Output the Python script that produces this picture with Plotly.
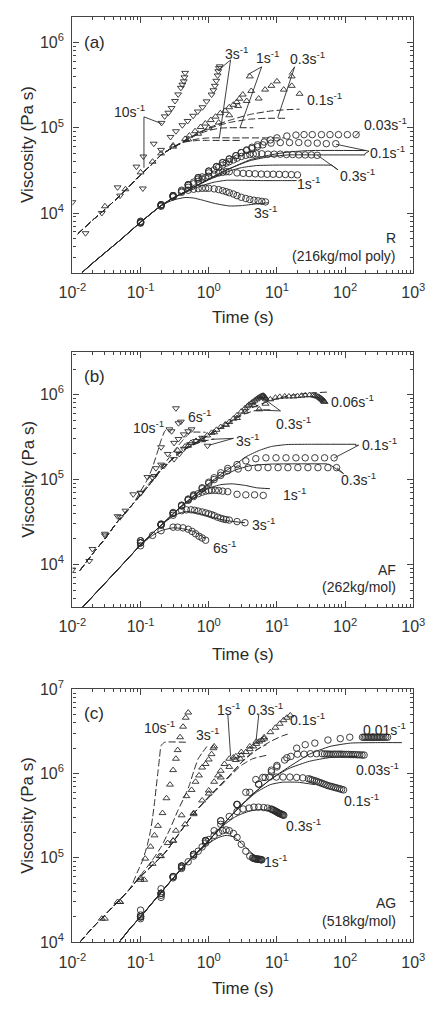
import plotly.graph_objects as go

W, H = 446, 1010
FONT = "Liberation Sans, Arial, sans-serif"
INK = "#2a2a2a"

# ===================== Panel (a): R (216 kg/mol poly) =====================
# extensional data (triangles)
a_tri10_t = [0.01, 0.027, 0.046, 0.087, 0.11, 0.156, 0.203, 0.226, 0.256, 0.285, 0.32, 0.356, 0.39, 0.41, 0.43, 0.44, 0.45]
a_tri10_eta = [1.34e4, 1.0e4, 2.0e4, 3.5e4, 4.6e4, 6.5e4, 1.14e5, 1.36e5, 1.5e5, 1.7e5, 2.06e5, 2.46e5, 2.94e5, 3.2e5, 3.5e5, 3.9e5, 4.4e5]
a_tri3_t = [0.0156, 0.05, 0.108, 0.2, 0.275, 0.33, 0.41, 0.49, 0.59, 0.69, 0.81, 0.93, 1.10, 1.17, 1.23, 1.29, 1.35, 1.38, 1.41, 1.45]
a_tri3_eta = [5.8e3, 1.6e4, 1.94e4, 5.5e4, 7.8e4, 9.1e4, 1.07e5, 1.2e5, 1.38e5, 1.55e5, 1.74e5, 2.04e5, 2.45e5, 2.75e5, 3.1e5, 3.55e5, 4.1e5, 4.6e5, 5.0e5, 5.25e5]
a_tri1_t = [0.03, 0.1, 0.2, 0.3, 0.45, 0.52, 0.63, 0.76, 0.89, 1.07, 1.26, 1.48, 1.74, 2.0, 2.3, 2.57, 2.82, 3.16, 4.0]
a_tri1_eta = [1.2e4, 3.0e4, 5.0e4, 6.2e4, 7.4e4, 8.1e4, 9.1e4, 1.02e5, 1.12e5, 1.23e5, 1.35e5, 1.48e5, 1.58e5, 1.74e5, 1.86e5, 2.0e5, 2.19e5, 2.45e5, 4.0e5]
a_tri03_t = [0.06, 0.15, 0.3, 0.5, 0.7, 1.0, 1.4, 2.0, 2.7, 3.6, 4.2, 5.4, 6.7, 8.3, 10.0, 12.6, 16.5, 16.5, 21.5]
a_tri03_eta = [1.9e4, 4.0e4, 6.0e4, 7.3e4, 8.5e4, 1.0e5, 1.15e5, 1.4e5, 1.8e5, 2.06e5, 2.7e5, 2.2e5, 2.8e5, 3.1e5, 3.5e5, 2.8e5, 4.0e5, 3.1e5, 2.5e5]
# extensional model (dashed)
a_dc_t = [0.012, 0.02, 0.03, 0.05, 0.1, 0.15, 0.2, 0.3]
a_dc_eta = [5.7e3, 8.3e3, 1.1e4, 1.6e4, 2.8e4, 3.8e4, 4.8e4, 5.9e4]
a_d10_t = a_dc_t + [0.45, 0.7, 1.0, 2.9]
a_d10_eta = a_dc_eta + [6.8e4, 7.1e4, 7.1e4, 7.1e4]
a_d3_t = a_dc_t + [0.45, 0.7, 1.0, 3.0, 12.8]
a_d3_eta = a_dc_eta + [6.9e4, 7.4e4, 7.6e4, 7.6e4, 7.6e4]
a_d1_t = a_dc_t + [0.45, 0.7, 1.0, 1.5, 2.0, 4.5]
a_d1_eta = a_dc_eta + [7.0e4, 8.4e4, 9.3e4, 9.9e4, 1.0e5, 1.0e5]
a_d03_t = a_dc_t + [0.45, 0.7, 1.0, 2.0, 4.0, 7.0, 14.0]
a_d03_eta = a_dc_eta + [7.1e4, 8.6e4, 9.8e4, 1.15e5, 1.26e5, 1.29e5, 1.29e5]
a_d01_t = a_dc_t + [0.45, 0.7, 1.0, 2.0, 4.0, 8.0, 14.0, 21.5]
a_d01_eta = a_dc_eta + [7.1e4, 8.7e4, 1.0e5, 1.22e5, 1.43e5, 1.57e5, 1.63e5, 1.65e5]
# shear data (circles)
a_c3_t = [0.1, 0.2, 0.3, 0.4, 0.5, 0.6, 0.7, 0.8, 0.9, 1.0, 1.2, 1.4, 1.6, 1.8, 2.0, 2.3, 2.6, 3.0, 3.5, 4.0, 4.6, 5.3, 6.0, 6.8]
a_c3_eta = [7.8e3, 1.25e4, 1.55e4, 1.75e4, 1.85e4, 1.9e4, 1.93e4, 1.95e4, 1.95e4, 1.95e4, 1.92e4, 1.88e4, 1.83e4, 1.78e4, 1.73e4, 1.67e4, 1.6e4, 1.53e4, 1.48e4, 1.44e4, 1.41e4, 1.39e4, 1.37e4, 1.35e4]
a_c1_t = [0.1, 0.2, 0.3, 0.4, 0.5, 0.6, 0.7, 0.8, 0.9, 1.0, 1.2, 1.4, 1.6, 1.8, 2.0, 2.6, 3.2, 3.9, 4.8, 5.9, 7.2, 8.8, 10.8, 13.3, 16.3, 20.0]
a_c1_eta = [7.6e3, 1.22e4, 1.55e4, 1.8e4, 2.0e4, 2.2e4, 2.35e4, 2.5e4, 2.6e4, 2.7e4, 2.85e4, 2.95e4, 3.0e4, 3.05e4, 3.05e4, 2.95e4, 2.92e4, 2.9e4, 2.88e4, 2.86e4, 2.85e4, 2.85e4, 2.84e4, 2.83e4, 2.82e4, 2.8e4]
a_c03_t = [0.1, 0.2, 0.3, 0.4, 0.5, 0.6, 0.7, 0.8, 1.0, 1.2, 1.4, 1.6, 1.8, 2.0, 2.3, 2.6, 3.0, 3.5, 4.0, 4.5, 5.0, 6.0, 7.4, 9.1, 11.2, 13.8, 17.0, 21.0, 26.0, 32.0, 39.0]
a_c03_eta = [8e3, 1.25e4, 1.6e4, 1.85e4, 2.1e4, 2.3e4, 2.5e4, 2.65e4, 2.95e4, 3.2e4, 3.45e4, 3.65e4, 3.85e4, 4.0e4, 4.2e4, 4.4e4, 4.6e4, 4.75e4, 4.85e4, 4.9e4, 4.95e4, 4.95e4, 4.9e4, 4.9e4, 4.9e4, 4.85e4, 4.85e4, 4.8e4, 4.8e4, 4.8e4, 4.75e4]
a_c01_t = [0.1, 0.2, 0.3, 0.5, 0.7, 1.0, 1.3, 1.6, 2.0, 2.5, 3.0, 3.6, 4.3, 5.2, 6.2, 8.2, 11.2, 15.3, 20.9, 28.5, 39.0, 53.0, 73.0]
a_c01_eta = [7.9e3, 1.25e4, 1.6e4, 2.15e4, 2.6e4, 3.1e4, 3.5e4, 3.9e4, 4.3e4, 4.7e4, 5.1e4, 5.4e4, 5.7e4, 6.0e4, 6.3e4, 6.6e4, 6.7e4, 6.7e4, 6.7e4, 6.6e4, 6.6e4, 6.5e4, 6.5e4]
a_c003_t = [0.1, 0.2, 0.3, 0.5, 0.7, 1.0, 1.3, 1.6, 2.0, 2.5, 3.0, 3.6, 4.3, 5.2, 6.5, 8.0, 10.0, 14.0, 19.0, 25.0, 33.0, 45.0, 60.0, 80.0, 108.0, 145.0]
a_c003_eta = [7.7e3, 1.2e4, 1.6e4, 2.15e4, 2.6e4, 3.1e4, 3.5e4, 3.9e4, 4.3e4, 4.7e4, 5.1e4, 5.5e4, 5.9e4, 6.3e4, 6.8e4, 7.2e4, 7.6e4, 8.0e4, 8.2e4, 8.3e4, 8.3e4, 8.3e4, 8.3e4, 8.3e4, 8.3e4, 8.3e4]
# shear model (solid)
a_sc_t = [0.0138, 0.02, 0.05, 0.1, 0.2]
a_sc_eta = [2.0e3, 2.6e3, 4.8e3, 7.8e3, 1.22e4]
a_s3_t = a_sc_t + [0.3, 0.45, 0.6, 0.8, 1.2, 2.0, 3.0, 5.0, 7.5]
a_s3_eta = a_sc_eta + [1.42e4, 1.52e4, 1.5e4, 1.42e4, 1.3e4, 1.21e4, 1.22e4, 1.28e4, 1.32e4]
a_s1_t = a_sc_t + [0.3, 0.5, 0.8, 1.2, 1.8, 3.0, 6.0, 12.0, 19.5]
a_s1_eta = a_sc_eta + [1.5e4, 1.8e4, 2.1e4, 2.3e4, 2.42e4, 2.42e4, 2.4e4, 2.4e4, 2.4e4]
a_s03_t = a_sc_t + [0.3, 0.5, 1.0, 2.0, 3.0, 5.0, 10.0, 30.0, 63.0]
a_s03_eta = a_sc_eta + [1.5e4, 1.85e4, 2.45e4, 3.1e4, 3.4e4, 3.6e4, 3.65e4, 3.65e4, 3.65e4]
a_s01_t = a_sc_t + [0.3, 0.5, 1.0, 2.0, 4.0, 8.0, 15.0, 40.0, 198.0]
a_s01_eta = a_sc_eta + [1.5e4, 1.85e4, 2.5e4, 3.3e4, 4.1e4, 4.6e4, 4.8e4, 4.8e4, 4.8e4]
a_s003_t = a_sc_t + [0.3, 0.5, 1.0, 2.0, 4.0, 8.0, 15.0, 30.0, 198.0]
a_s003_eta = a_sc_eta + [1.5e4, 1.85e4, 2.5e4, 3.3e4, 4.2e4, 4.8e4, 5.2e4, 5.4e4, 5.4e4]

# ===================== Panel (b): AF (262 kg/mol) =====================
b_tri10_t = [0.01, 0.0177, 0.046, 0.078, 0.126, 0.168, 0.2, 0.265, 0.285, 0.33, 0.36, 0.39]
b_tri10_eta = [8.7e3, 1.1e4, 3.7e4, 6.7e4, 1.07e5, 1.36e5, 2.4e5, 3.9e5, 3.7e5, 6.9e5, 4.6e5, 4.8e5]
b_tri6_t = [0.0197, 0.03, 0.06, 0.1, 0.15, 0.2, 0.25, 0.31, 0.36, 0.43, 0.5, 0.56]
b_tri6_eta = [1.52e4, 2.2e4, 4.3e4, 7.0e4, 1.05e5, 1.5e5, 2.0e5, 2.7e5, 3.0e5, 3.4e5, 3.7e5, 3.9e5]
b_tri3_t = [0.03, 0.05, 0.1, 0.16, 0.22, 0.31, 0.37, 0.43, 0.53, 0.65, 0.8, 0.96]
b_tri3_eta = [2.3e4, 3.6e4, 6.9e4, 1.1e5, 1.45e5, 1.74e5, 2.0e5, 2.3e5, 2.6e5, 2.84e5, 3.1e5, 2.5e5]
b_tri03_t = [0.35, 0.45, 0.55, 0.65, 0.8, 0.95, 1.1, 1.3, 1.5, 1.75, 2.0, 2.3, 2.6, 3.0, 3.4, 3.7, 3.9, 4.2, 4.4, 4.7, 5.0, 5.25, 5.5, 5.75, 6.0, 6.15, 6.3, 6.45, 6.6, 6.75, 6.9]
b_tri03_eta = [2.2e5, 2.45e5, 2.7e5, 2.85e5, 3.0e5, 3.3e5, 3.55e5, 3.85e5, 4.15e5, 4.45e5, 4.75e5, 5.2e5, 5.7e5, 6.3e5, 6.9e5, 7.3e5, 7.6e5, 7.9e5, 8.2e5, 8.5e5, 8.8e5, 9.05e5, 9.3e5, 9.45e5, 9.6e5, 9.65e5, 9.7e5, 9.6e5, 9.4e5, 9.1e5, 8.8e5]
b_tri006_t = [0.5, 0.8, 1.2, 1.8, 2.6, 3.4, 4.6, 5.5, 6.8, 8.0, 9.5, 11.0, 13.0, 15.0, 17.5, 20.0, 23.0, 26.0, 30.0, 34.0, 36.0, 38.0, 40.0, 42.0, 43.5, 45.0, 46.5, 48.0, 49.0, 50.0]
b_tri006_eta = [2.5e5, 2.9e5, 3.6e5, 4.4e5, 5.3e5, 6.3e5, 7.5e5, 6.7e5, 7.8e5, 8.8e5, 9.2e5, 9.4e5, 9.5e5, 9.5e5, 9.5e5, 9.6e5, 9.7e5, 9.8e5, 9.85e5, 9.8e5, 9.7e5, 9.6e5, 9.45e5, 9.3e5, 9.1e5, 8.9e5, 8.7e5, 8.5e5, 8.35e5, 8.2e5]
b_dc_t = [0.0129, 0.02, 0.03, 0.046, 0.078]
b_dc_eta = [8.5e3, 1.35e4, 2.0e4, 3.2e4, 5.2e4]
b_d10_t = b_dc_t + [0.1, 0.126, 0.15, 0.18, 0.2, 0.226, 0.25]
b_d10_eta = b_dc_eta + [7.3e4, 1.0e5, 1.4e5, 2.2e5, 2.9e5, 3.7e5, 4.0e5]
b_d6_t = b_dc_t + [0.126, 0.2, 0.3, 0.4, 0.5, 0.55, 0.9]
b_d6_eta = b_dc_eta + [8.5e4, 1.35e5, 2.1e5, 2.8e5, 3.4e5, 3.6e5, 3.6e5]
b_d3_t = b_dc_t + [0.126, 0.2, 0.35, 0.5, 0.8, 1.2]
b_d3_eta = b_dc_eta + [8.1e4, 1.3e5, 1.95e5, 2.4e5, 2.8e5, 3.0e5]
b_d03_t = b_dc_t + [0.126, 0.2, 0.35, 0.8, 1.9, 3.0, 4.5, 6.0, 8.0]
b_d03_eta = b_dc_eta + [8.1e4, 1.3e5, 2.0e5, 3.0e5, 4.5e5, 5.7e5, 6.4e5, 6.6e5, 6.6e5]
b_d006_t = b_dc_t + [0.126, 0.2, 0.35, 0.8, 1.9, 4.0, 8.0, 15.0, 30.0, 55.0]
b_d006_eta = b_dc_eta + [8.1e4, 1.3e5, 2.0e5, 3.0e5, 4.6e5, 6.8e5, 8.5e5, 9.7e5, 1.04e6, 1.07e6]
b_c6_t = [0.1, 0.1, 0.15, 0.2, 0.2, 0.3, 0.35, 0.42, 0.5, 0.57, 0.64, 0.72, 0.8, 0.9]
b_c6_eta = [1.66e4, 1.9e4, 2.2e4, 2.5e4, 2.95e4, 2.75e4, 2.75e4, 2.7e4, 2.6e4, 2.45e4, 2.3e4, 2.15e4, 2.05e4, 1.93e4]
b_c3_t = [0.1, 0.2, 0.3, 0.4, 0.47, 0.55, 0.62, 0.7, 0.8, 0.9, 1.0, 1.1, 1.2, 1.35, 1.5, 1.65, 1.8, 2.0, 2.6, 3.4]
b_c3_eta = [1.8e4, 2.9e4, 3.8e4, 4.3e4, 4.4e4, 4.4e4, 4.35e4, 4.25e4, 4.15e4, 4.05e4, 3.95e4, 3.85e4, 3.75e4, 3.6e4, 3.5e4, 3.42e4, 3.38e4, 3.33e4, 3.2e4, 3.1e4]
b_c1_t = [0.1, 0.2, 0.3, 0.4, 0.5, 0.6, 0.7, 0.8, 0.9, 1.0, 1.1, 1.25, 1.4, 1.6, 1.9, 2.6, 3.5, 4.7, 6.3]
b_c1_eta = [1.8e4, 2.95e4, 4.0e4, 4.9e4, 5.7e4, 6.3e4, 6.8e4, 7.1e4, 7.3e4, 7.4e4, 7.45e4, 7.45e4, 7.4e4, 7.3e4, 7.2e4, 6.7e4, 6.6e4, 6.6e4, 6.5e4]
b_c03_t = [0.1, 0.2, 0.3, 0.4, 0.5, 0.6, 0.8, 1.0, 1.2, 1.5, 1.9, 2.7, 3.8, 5.3, 7.4, 10.4, 14.5, 20.3, 28.5, 40.0, 56.0, 75.0]
b_c03_eta = [1.8e4, 2.95e4, 4.0e4, 4.9e4, 5.8e4, 6.5e4, 7.8e4, 9.0e4, 1.0e5, 1.12e5, 1.27e5, 1.33e5, 1.38e5, 1.38e5, 1.38e5, 1.38e5, 1.38e5, 1.38e5, 1.38e5, 1.38e5, 1.38e5, 1.38e5]
b_c01_t = [0.1, 0.2, 0.3, 0.4, 0.5, 0.6, 0.8, 1.0, 1.2, 1.5, 1.9, 2.6, 3.5, 4.9, 6.9, 9.7, 13.6, 19.0, 26.0, 36.0, 50.0, 69.0]
b_c01_eta = [1.9e4, 3.0e4, 4.1e4, 5.0e4, 5.9e4, 6.6e4, 8.0e4, 9.3e4, 1.05e5, 1.2e5, 1.35e5, 1.5e5, 1.66e5, 1.76e5, 1.8e5, 1.8e5, 1.8e5, 1.8e5, 1.8e5, 1.8e5, 1.8e5, 1.8e5]
b_sc_t = [0.0142, 0.03, 0.06, 0.1]
b_sc_eta = [3.16e3, 6.0e3, 1.09e4, 1.7e4]
b_s6_t = b_sc_t + [0.15, 0.2, 0.3, 0.4, 0.6, 0.9]
b_s6_eta = b_sc_eta + [2.2e4, 2.5e4, 2.7e4, 2.65e4, 2.45e4, 2.0e4]
b_s3_t = b_sc_t + [0.2, 0.3, 0.4, 0.5, 0.7, 1.0, 1.5, 2.0, 3.4]
b_s3_eta = b_sc_eta + [2.9e4, 3.7e4, 4.1e4, 4.2e4, 4.0e4, 3.7e4, 3.4e4, 3.25e4, 3.1e4]
b_s1_t = b_sc_t + [0.2, 0.4, 0.7, 1.0, 1.5, 2.2, 3.5, 5.0, 7.9]
b_s1_eta = b_sc_eta + [2.9e4, 4.8e4, 6.6e4, 7.9e4, 8.7e4, 8.9e4, 8.5e4, 8.0e4, 7.8e4]
b_s03_t = b_sc_t + [0.2, 0.4, 0.7, 1.0, 1.5, 2.5, 4.0, 8.0, 20.0, 55.0]
b_s03_eta = b_sc_eta + [2.9e4, 4.9e4, 7.0e4, 8.8e4, 1.07e5, 1.3e5, 1.45e5, 1.52e5, 1.53e5, 1.53e5]
b_s01_t = b_sc_t + [0.2, 0.4, 0.7, 1.0, 1.5, 2.6, 3.5, 5.5, 8.3, 14.0, 30.0, 145.0]
b_s01_eta = b_sc_eta + [2.9e4, 4.9e4, 7.1e4, 9.0e4, 1.15e5, 1.55e5, 1.85e5, 2.2e5, 2.45e5, 2.58e5, 2.6e5, 2.6e5]

# ===================== Panel (c): AG (518 kg/mol) =====================
c_tri10_t = [0.027, 0.046, 0.113, 0.117, 0.14, 0.16, 0.18, 0.21, 0.24, 0.27, 0.30, 0.33, 0.35, 0.38, 0.42, 0.46, 0.5]
c_tri10_eta = [1.9e4, 3.0e4, 5.5e4, 9.8e4, 1.36e5, 1.85e5, 2.4e5, 3.4e5, 5.1e5, 7.4e5, 1.1e6, 1.5e6, 1.9e6, 2.7e6, 3.6e6, 4.6e6, 5.3e6]
c_tri3_t = [0.05, 0.1, 0.15, 0.19, 0.25, 0.33, 0.4, 0.47, 0.56, 0.64, 0.72, 0.8, 0.9, 1.0, 1.1, 1.17, 1.2]
c_tri3_eta = [3e4, 5.5e4, 8.5e4, 1.05e5, 1.5e5, 2.1e5, 3.2e5, 5.4e5, 6.4e5, 8.0e5, 9.5e5, 1.18e6, 1.3e6, 1.47e6, 1.7e6, 2.0e6, 2.1e6]
c_tri1_t = [0.03, 0.05, 0.1, 0.2, 0.3, 0.45, 0.6, 0.8, 1.0, 1.2, 1.37, 1.5, 1.7, 2.0, 2.3, 2.5, 2.9]
c_tri1_eta = [1.9e4, 3.0e4, 5.8e4, 1.05e5, 1.6e5, 2.5e5, 3.4e5, 4.8e5, 6.3e5, 8.0e5, 9.5e5, 1.08e6, 1.3e6, 1.5e6, 1.55e6, 1.6e6, 1.5e6]
c_tri03_t = [0.3, 0.6, 1.0, 1.5, 2.0, 2.5, 3.0, 3.5, 4.0, 4.5, 5.0, 5.5, 6.0, 6.5]
c_tri03_eta = [1.6e5, 3.3e5, 5.8e5, 9e5, 1.2e6, 1.45e6, 1.65e6, 1.8e6, 1.95e6, 2.1e6, 2.25e6, 2.4e6, 2.5e6, 2.6e6]
c_tri01_t = [3.0, 4.0, 5.0, 6.5, 8.0, 9.5, 11.0, 12.5, 14.0, 15.7]
c_tri01_eta = [1.8e6, 2.1e6, 2.4e6, 2.7e6, 3.1e6, 3.5e6, 3.9e6, 4.3e6, 4.6e6, 4.9e6]
c_dc_t = [0.0129, 0.02, 0.03, 0.046, 0.07]
c_dc_eta = [1.0e4, 1.5e4, 2.1e4, 3.0e4, 4.3e4]
c_d10_t = c_dc_t + [0.09, 0.108, 0.125, 0.14, 0.15, 0.16, 0.17, 0.18, 0.19, 0.2, 0.225, 0.47]
c_d10_eta = c_dc_eta + [6.8e4, 9.5e4, 1.4e5, 2.1e5, 3.0e5, 4.5e5, 7.0e5, 1.05e6, 1.55e6, 2.15e6, 2.35e6, 2.35e6]
c_d3_t = c_dc_t + [0.1, 0.15, 0.2, 0.27, 0.35, 0.45, 0.52, 0.61, 0.7, 0.8, 0.94]
c_d3_eta = c_dc_eta + [6.2e4, 9.5e4, 1.35e5, 2.2e5, 3.6e5, 5.5e5, 7.3e5, 1.1e6, 1.5e6, 1.76e6, 2.1e6]
c_d1_t = c_dc_t + [0.1, 0.226, 0.59, 1.0, 1.5, 2.1, 3.0, 4.4, 7.1]
c_d1_eta = c_dc_eta + [6e4, 1.14e5, 3.3e5, 5.2e5, 7.2e5, 9.5e5, 1.25e6, 1.5e6, 1.65e6]
c_d03_t = c_dc_t + [0.1, 0.226, 0.59, 1.0, 1.9, 3.0, 4.0, 5.5, 7.0]
c_d03_eta = c_dc_eta + [6e4, 1.14e5, 3.3e5, 5.3e5, 9e5, 1.35e6, 1.7e6, 2.0e6, 2.2e6]
c_d01_t = c_dc_t + [0.1, 0.226, 0.59, 1.0, 1.9, 3.0, 5.0, 8.0, 12.0, 15.7]
c_d01_eta = c_dc_eta + [6e4, 1.14e5, 3.3e5, 5.3e5, 9e5, 1.35e6, 1.9e6, 2.4e6, 2.8e6, 3.0e6]
c_c1_t = [0.1, 0.1, 0.2, 0.2, 0.3, 0.4, 0.5, 0.6, 0.7, 0.8, 0.9, 1.0, 1.2, 1.4, 1.6, 1.8, 2.0, 2.3, 2.6, 3.0, 3.5, 4.0, 4.4, 4.55, 4.7, 4.85, 5.0, 5.15, 5.3, 5.45, 5.6, 5.75, 5.9, 6.0]
c_c1_eta = [1.9e4, 2.4e4, 3.4e4, 4.3e4, 6e4, 7.5e4, 9e4, 1.05e5, 1.2e5, 1.35e5, 1.5e5, 1.65e5, 1.85e5, 2.0e5, 2.1e5, 2.15e5, 2.1e5, 1.95e5, 1.75e5, 1.45e5, 1.2e5, 1.05e5, 1.0e5, 9.9e4, 9.8e4, 9.75e4, 9.7e4, 9.7e4, 9.65e4, 9.6e4, 9.6e4, 9.55e4, 9.5e4, 9.5e4]
c_c03_t = [0.1, 0.2, 0.3, 0.4, 0.6, 0.9, 1.2, 1.5, 2.0, 2.6, 3.2, 3.9, 4.6, 5.4, 6.4, 7.3, 8.2, 8.5, 8.8, 9.1, 9.4, 9.7, 10.0, 10.3, 10.6, 10.9, 11.2, 11.6, 12.0, 12.3, 12.6]
c_c03_eta = [2.1e4, 3.6e4, 5.8e4, 7.7e4, 1.1e5, 1.6e5, 2.1e5, 2.5e5, 3.1e5, 3.55e5, 3.8e5, 3.9e5, 4.0e5, 4.0e5, 3.95e5, 3.9e5, 3.8e5, 3.75e5, 3.7e5, 3.65e5, 3.6e5, 3.55e5, 3.5e5, 3.45e5, 3.4e5, 3.37e5, 3.33e5, 3.3e5, 3.26e5, 3.23e5, 3.2e5]
c_c01_t = [0.1, 0.2, 0.3, 0.4, 0.6, 0.9, 1.5, 2.6, 3.5, 4.9, 6.2, 7.8, 9.8, 12.3, 15.5, 19.5, 24.0, 29.0, 31.0, 33.0, 35.5, 38.0, 40.5, 43.0, 46.0, 49.0, 52.5, 56.0, 60.0, 64.0, 68.5, 73.0, 78.0, 83.5, 89.0, 95.0]
c_c01_eta = [2.0e4, 3.8e4, 6e4, 8e4, 1.1e5, 1.6e5, 2.75e5, 4.3e5, 6e5, 8.5e5, 9.0e5, 9.1e5, 9.1e5, 9.1e5, 9.1e5, 9.0e5, 8.9e5, 8.7e5, 8.55e5, 8.4e5, 8.25e5, 8.1e5, 7.95e5, 7.8e5, 7.65e5, 7.5e5, 7.35e5, 7.2e5, 7.1e5, 7.0e5, 6.9e5, 6.8e5, 6.7e5, 6.6e5, 6.5e5, 6.4e5]
c_c003_t = [0.1, 0.2, 0.3, 0.4, 0.6, 0.9, 1.5, 2.6, 4.0, 5.4, 6.7, 8.3, 10.0, 13.0, 16.0, 20.0, 25.0, 31.0, 38.0, 46.0, 50.0, 54.0, 58.0, 62.0, 67.0, 72.0, 78.0, 84.0, 90.0, 97.0, 105.0, 113.0, 122.0, 131.0, 141.0, 152.0, 164.0, 177.0, 190.0]
c_c003_eta = [2.0e4, 3.8e4, 6e4, 8e4, 1.1e5, 1.6e5, 2.75e5, 4.3e5, 6e5, 7.5e5, 9e5, 1.05e6, 1.2e6, 1.45e6, 1.6e6, 1.7e6, 1.7e6, 1.72e6, 1.72e6, 1.72e6, 1.71e6, 1.71e6, 1.7e6, 1.7e6, 1.7e6, 1.7e6, 1.7e6, 1.7e6, 1.7e6, 1.69e6, 1.69e6, 1.69e6, 1.68e6, 1.68e6, 1.68e6, 1.67e6, 1.67e6, 1.66e6, 1.66e6]
c_c001_t = [0.1, 0.2, 0.4, 0.9, 2.6, 5.4, 8.3, 10.0, 14.0, 19.5, 26.0, 36.0, 56.0, 85.0, 117.0, 180.0, 190.0, 200.0, 210.0, 220.0, 232.0, 245.0, 258.0, 270.0, 285.0, 300.0, 315.0, 330.0, 350.0, 370.0, 395.0, 420.0]
c_c001_eta = [2.0e4, 3.8e4, 8e4, 1.6e5, 4.3e5, 7.5e5, 1.1e6, 1.25e6, 1.54e6, 2.0e6, 2.2e6, 2.3e6, 2.5e6, 2.6e6, 2.7e6, 2.7e6, 2.7e6, 2.7e6, 2.7e6, 2.7e6, 2.7e6, 2.7e6, 2.7e6, 2.7e6, 2.7e6, 2.7e6, 2.7e6, 2.7e6, 2.7e6, 2.7e6, 2.7e6, 2.7e6]
c_sc_t = [0.0486, 0.07, 0.1]
c_sc_eta = [1.0e4, 1.45e4, 2.0e4]
c_s1_t = c_sc_t + [0.2, 0.4, 0.7, 1.0, 1.4, 1.8, 2.3, 3.0, 4.0, 5.0, 6.0]
c_s1_eta = c_sc_eta + [3.9e4, 7.4e4, 1.17e5, 1.5e5, 1.75e5, 1.85e5, 1.78e5, 1.5e5, 1.2e5, 1.03e5, 9.6e4]
c_s03_t = c_sc_t + [0.2, 0.4, 0.7, 1.0, 1.5, 2.5, 4.0, 6.0, 8.0, 10.0, 12.0]
c_s03_eta = c_sc_eta + [3.9e4, 7.5e4, 1.2e5, 1.6e5, 2.3e5, 3.1e5, 3.6e5, 3.75e5, 3.6e5, 3.4e5, 3.2e5]
c_s01_t = c_sc_t + [0.2, 0.4, 1.0, 2.0, 3.0, 5.0, 8.0, 12.0, 20.0, 36.0]
c_s01_eta = c_sc_eta + [3.9e4, 7.5e4, 1.6e5, 3.0e5, 4.2e5, 6.0e5, 7.4e5, 7.9e5, 7.9e5, 7.4e5]
c_s003_t = c_sc_t + [0.2, 0.4, 1.0, 2.0, 4.0, 8.0, 15.0, 30.0, 60.0, 150.0]
c_s003_eta = c_sc_eta + [3.9e4, 7.5e4, 1.6e5, 3.0e5, 5.3e5, 8.5e5, 1.15e6, 1.4e6, 1.55e6, 1.6e6]
c_s001_t = c_sc_t + [0.2, 0.4, 1.0, 2.0, 4.0, 8.0, 15.0, 30.0, 60.0, 120.0, 300.0, 680.0]
c_s001_eta = c_sc_eta + [3.9e4, 7.5e4, 1.6e5, 3.0e5, 5.3e5, 8.5e5, 1.2e6, 1.7e6, 2.1e6, 2.3e6, 2.33e6, 2.33e6]

# axis ranges (log10) and tick labels
X_RANGE = [-2, 3]
Y_RANGES = {1: [3.3, 6.3], 2: [3.5, 6.5], 3: [4.0, 7.0]}
X_TICKS = [1e-2, 1e-1, 1e0, 1e1, 1e2, 1e3]
X_TICKTEXT = ["10<sup>-2</sup>", "10<sup>-1</sup>", "10<sup>0</sup>", "10<sup>1</sup>", "10<sup>2</sup>", "10<sup>3</sup>"]
Y_TICKS = [1e4, 1e5, 1e6, 1e7]
Y_TICKTEXT = ["10<sup>4</sup>", "10<sup>5</sup>", "10<sup>6</sup>", "10<sup>7</sup>"]
X_MINOR = [m * 10.0 ** k for k in range(-2, 3) for m in range(2, 10)]
Y_MINOR = [m * 10.0 ** k for k in range(3, 7) for m in range(2, 10)]

# ----- series table (panel, kind, t, eta, symbol) -----
SERIES = [
    (1, "tri", a_tri10_t, a_tri10_eta, "triangle-down-open"), (1, "tri", a_tri3_t, a_tri3_eta, "triangle-down-open"),
    (1, "tri", a_tri1_t, a_tri1_eta, "triangle-up-open"), (1, "tri", a_tri03_t, a_tri03_eta, "triangle-up-open"),
    (1, "dash", a_d10_t, a_d10_eta, None), (1, "dash", a_d3_t, a_d3_eta, None), (1, "dash", a_d1_t, a_d1_eta, None),
    (1, "dash", a_d03_t, a_d03_eta, None), (1, "dash", a_d01_t, a_d01_eta, None),
    (1, "solid", a_s3_t, a_s3_eta, None), (1, "solid", a_s1_t, a_s1_eta, None), (1, "solid", a_s03_t, a_s03_eta, None),
    (1, "solid", a_s01_t, a_s01_eta, None), (1, "solid", a_s003_t, a_s003_eta, None),
    (1, "circ", a_c3_t, a_c3_eta, None), (1, "circ", a_c1_t, a_c1_eta, None), (1, "circ", a_c03_t, a_c03_eta, None),
    (1, "circ", a_c01_t, a_c01_eta, None), (1, "circ", a_c003_t, a_c003_eta, None),

    (2, "tri", b_tri10_t, b_tri10_eta, "triangle-down-open"), (2, "tri", b_tri6_t, b_tri6_eta, "triangle-down-open"),
    (2, "tri", b_tri3_t, b_tri3_eta, "triangle-down-open"), (2, "tri", b_tri03_t, b_tri03_eta, "triangle-up-open"),
    (2, "tri", b_tri006_t, b_tri006_eta, "triangle-up-open"),
    (2, "dash", b_d10_t, b_d10_eta, None), (2, "dash", b_d6_t, b_d6_eta, None), (2, "dash", b_d3_t, b_d3_eta, None),
    (2, "dash", b_d03_t, b_d03_eta, None), (2, "dash", b_d006_t, b_d006_eta, None),
    (2, "solid", b_s6_t, b_s6_eta, None), (2, "solid", b_s3_t, b_s3_eta, None), (2, "solid", b_s1_t, b_s1_eta, None),
    (2, "solid", b_s03_t, b_s03_eta, None), (2, "solid", b_s01_t, b_s01_eta, None),
    (2, "circ", b_c6_t, b_c6_eta, None), (2, "circ", b_c3_t, b_c3_eta, None), (2, "circ", b_c1_t, b_c1_eta, None),
    (2, "circ", b_c03_t, b_c03_eta, None), (2, "circ", b_c01_t, b_c01_eta, None),

    (3, "tri", c_tri10_t, c_tri10_eta, "triangle-up-open"), (3, "tri", c_tri3_t, c_tri3_eta, "triangle-up-open"),
    (3, "tri", c_tri1_t, c_tri1_eta, "triangle-up-open"), (3, "tri", c_tri03_t, c_tri03_eta, "triangle-up-open"),
    (3, "tri", c_tri01_t, c_tri01_eta, "triangle-up-open"),
    (3, "dash", c_d10_t, c_d10_eta, None), (3, "dash", c_d3_t, c_d3_eta, None), (3, "dash", c_d1_t, c_d1_eta, None),
    (3, "dash", c_d03_t, c_d03_eta, None), (3, "dash", c_d01_t, c_d01_eta, None),
    (3, "solid", c_s1_t, c_s1_eta, None), (3, "solid", c_s03_t, c_s03_eta, None), (3, "solid", c_s01_t, c_s01_eta, None),
    (3, "solid", c_s003_t, c_s003_eta, None), (3, "solid", c_s001_t, c_s001_eta, None),
    (3, "circ", c_c1_t, c_c1_eta, None), (3, "circ", c_c03_t, c_c03_eta, None), (3, "circ", c_c01_t, c_c01_eta, None),
    (3, "circ", c_c003_t, c_c003_eta, None), (3, "circ", c_c001_t, c_c001_eta, None),
]

# ----- layout geometry (pixels) -----
X_LEFT, X_RIGHT = 62, 424
PANEL_PX = {1: (6, 267), 2: (348, 608), 3: (692, 950)}

def px(x):
    return x / W

def py(y):
    return 1 - y / H

fig = go.Figure()
for panel, kind, t, eta, sym in SERIES:
    xa = "x" if panel == 1 else f"x{panel}"
    ya = "y" if panel == 1 else f"y{panel}"
    if kind == "tri":
        fig.add_trace(go.Scatter(x=t, y=eta, xaxis=xa, yaxis=ya, mode="markers", hoverinfo="skip",
                                 marker=dict(symbol=sym, size=6, color=INK, line=dict(width=0.9, color=INK))))
    elif kind == "circ":
        fig.add_trace(go.Scatter(x=t, y=eta, xaxis=xa, yaxis=ya, mode="markers", hoverinfo="skip",
                                 marker=dict(symbol="circle-open", size=6.5, color=INK, line=dict(width=0.9, color=INK))))
    elif kind == "dash":
        fig.add_trace(go.Scatter(x=t, y=eta, xaxis=xa, yaxis=ya, mode="lines", hoverinfo="skip",
                                 line=dict(color=INK, width=1.0, dash="7px,3px", shape="spline", smoothing=0.5)))
    else:
        fig.add_trace(go.Scatter(x=t, y=eta, xaxis=xa, yaxis=ya, mode="lines", hoverinfo="skip",
                                 line=dict(color=INK, width=1.0, shape="spline", smoothing=0.5)))

layout = dict(width=W, height=H, margin=dict(l=0, r=0, t=0, b=0), autosize=False,
              paper_bgcolor="white", plot_bgcolor="white", showlegend=False,
              font=dict(family=FONT, color=INK))
for p in (1, 2, 3):
    top, bot = PANEL_PX[p]
    xk = "xaxis" if p == 1 else f"xaxis{p}"
    yk = "yaxis" if p == 1 else f"yaxis{p}"
    xa_anchor = "y" if p == 1 else f"y{p}"
    ya_anchor = "x" if p == 1 else f"x{p}"
    axis_common = dict(type="log", ticks="inside", ticklen=6, tickwidth=1, tickcolor="#444",
                       mirror="allticks", showline=True, linecolor="#444", linewidth=1.4,
                       showgrid=False, zeroline=False, tickfont=dict(size=16, family=FONT, color="#333"))
    layout[xk] = dict(axis_common, range=X_RANGE, domain=[px(X_LEFT), px(X_RIGHT)], anchor=xa_anchor,
                      tickmode="array", tickvals=X_TICKS, ticktext=X_TICKTEXT, ticklabelstandoff=5,
                      minor=dict(ticks="inside", ticklen=3, tickwidth=1, tickcolor="#444", tickvals=X_MINOR, showgrid=False))
    layout[yk] = dict(axis_common, range=Y_RANGES[p], domain=[py(bot), py(top)], anchor=ya_anchor,
                      tickmode="array", tickvals=Y_TICKS, ticktext=Y_TICKTEXT, ticklabelstandoff=4,
                      minor=dict(ticks="inside", ticklen=3, tickwidth=1, tickcolor="#444", tickvals=Y_MINOR, showgrid=False))
fig.update_layout(**layout)

# ----- text: axis titles, panel tags, sample names, rate labels -----
annotations = []
def txt(x, y, s, size=14, xanchor="center", angle=0):
    annotations.append(dict(x=px(x), y=py(y), xref="paper", yref="paper", text=s, showarrow=False,
                            xanchor=xanchor, yanchor="middle", textangle=angle,
                            font=dict(size=size, family=FONT, color=INK)))

for p, (ty, tx_y) in {1: (136.5, 313), 2: (478, 656), 3: (821, 997)}.items():
    txt(15, ty, "Viscosity (Pa s)", size=17, angle=-90)
    txt(243, tx_y, "Time (s)", size=17)

txt(72, 32, "(a)", size=17, xanchor="left")
txt(72, 373, "(b)", size=17, xanchor="left")
txt(72, 717, "(c)", size=17, xanchor="left")
txt(408, 232, "R", xanchor="right")
txt(408, 250, "(216kg/mol poly)", xanchor="right")
txt(408, 570, "AF", xanchor="right")
txt(408, 588, "(262kg/mol)", xanchor="right")
txt(408, 910, "AG", xanchor="right")
txt(408, 928, "(518kg/mol)", xanchor="right")

S = "s<sup>-1</sup>"
RATE_LABELS = [
    (123, 102, "10"), (237, 43, "3"), (270, 47, "1"), (312, 48, "0.3"), (330, 90, "0.1"),
    (395, 115, "0.03"), (397, 144, "0.1"), (365, 167, "0.3"), (313, 175, "1"), (268, 205, "3"),
    (143, 424, "10"), (198, 413, "6"), (249, 438, "3"), (297, 420, "0.3"), (359, 398, "0.06"),
    (388, 442, "0.1"), (366, 477, "0.3"), (298, 493, "1"), (265, 523, "3"), (224, 547, "6"),
    (154, 730, "10"), (206, 738, "3"), (228, 712, "1"), (267, 712, "0.3"), (312, 722, "0.1"),
    (393, 732, "0.01"), (386, 773, "0.03"), (369, 805, "0.1"), (307, 830, "0.3"), (278, 867, "1"),
]
for x, y, r in RATE_LABELS:
    txt(x, y, r + S)

LEADERS = [
    ((138, 108), (157, 115)), ((138, 108), (138, 160)),
    ((230, 50), (220, 58)), ((230, 50), (218, 130)),
    ((263, 57), (248, 65)), ((263, 57), (240, 119)),
    ((298, 57), (292, 65)), ((298, 57), (280, 109)),
    ((367, 123), (362, 128)),
    ((377, 143), (342, 136)), ((377, 143), (372, 146)),
    ((344, 162), (322, 147)), ((344, 162), (337, 157)),
    ((233, 436), (207, 443)), ((233, 436), (209, 437)),
    ((283, 408), (258, 407)), ((283, 408), (266, 396)),
    ((366, 443), (340, 456)), ((366, 443), (362, 443)),
    ((350, 472), (343, 466)), ((350, 472), (334, 462)),
    ((227, 717), (230, 760)), ((260, 717), (257, 745)),
]
shapes = [dict(type="line", xref="paper", yref="paper", x0=px(a[0]), y0=py(a[1]), x1=px(b[0]), y1=py(b[1]),
               line=dict(color=INK, width=0.9)) for a, b in LEADERS]
fig.update_layout(annotations=annotations, shapes=shapes)

fig.write_html("out.html")
